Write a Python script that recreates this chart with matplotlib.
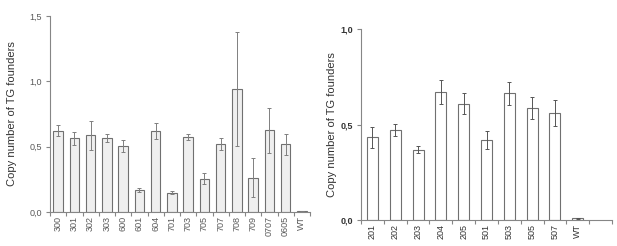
import matplotlib
matplotlib.use('Agg')
import matplotlib.pyplot as plt
import numpy as np

plt.rcParams['font.family'] = ['Liberation Sans', 'DejaVu Sans']

# Left panel data
left_labels = ['300', '301', '302', '303', '600', '601', '604', '701', '703', '705',
               '707', '708', '709', '0707', '0605', 'WT']
left_values = [0.621, 0.565, 0.586, 0.565, 0.507, 0.166, 0.619, 0.148, 0.573, 0.255,
               0.52, 0.94, 0.262, 0.624, 0.517, 0.008]
left_errors = [0.043, 0.05, 0.11, 0.033, 0.046, 0.016, 0.061, 0.012, 0.023, 0.04,
               0.047, 0.434, 0.148, 0.175, 0.08, 0.002]

# Right panel data (last category slot is empty)
right_labels = ['201', '202', '203', '204', '205', '501', '503', '505', '507', 'WT']
right_values = [0.434, 0.472, 0.369, 0.67, 0.608, 0.42, 0.663, 0.586, 0.559, 0.009]
right_errors = [0.055, 0.03, 0.018, 0.063, 0.055, 0.047, 0.06, 0.056, 0.069, 0.002]

AXIS_GRAY = '#868686'
W, H = 617, 246
fig = plt.figure(figsize=(W / 100, H / 100), dpi=100)


def style_axes(ax, n_slots, labels, tick_color, weight):
    for side in ['top', 'right']:
        ax.spines[side].set_visible(False)
    for side in ['left', 'bottom']:
        ax.spines[side].set_color(AXIS_GRAY)
        ax.spines[side].set_linewidth(0.8)
    ax.set_xlim(-0.5, n_slots - 0.5)
    ax.set_xticks(range(len(labels)))
    ax.set_xticklabels(labels, rotation=90, fontsize=6.5, color=tick_color)
    ax.set_xticks(np.arange(-0.5, n_slots, 1), minor=True)
    ax.tick_params(axis='x', which='major', length=0, pad=3)
    ax.tick_params(axis='x', which='minor', length=3, color=AXIS_GRAY, width=0.8)
    ax.tick_params(axis='y', length=3, color=AXIS_GRAY, width=0.8, labelsize=6.5,
                   labelcolor=tick_color, pad=3)
    for t in ax.get_yticklabels():
        t.set_fontweight(weight)
    ax.set_ylabel('Copy number of TG founders', fontsize=8, color='#333333')


# Left chart
ax1 = fig.add_axes([50 / W, 1 - 212 / H, 260 / W, 196 / H])
x1 = np.arange(len(left_labels))
ax1.bar(x1, left_values, width=0.58, color='#efefef', edgecolor='#707070', linewidth=0.8,
        yerr=left_errors, error_kw=dict(ecolor='#7f7f7f', elinewidth=0.7, capsize=1.3, capthick=0.7))
ax1.set_ylim(0, 1.5)
ax1.set_yticks([0, 0.5, 1.0, 1.5])
ax1.set_yticklabels(['0,0', '0,5', '1,0', '1,5'])
style_axes(ax1, len(left_labels), left_labels, '#595959', 'normal')
ax1.yaxis.set_label_coords(-33 / 260, 0.5)

# Right chart
ax2 = fig.add_axes([361 / W, 1 - 220 / H, 251 / W, 191 / H])
x2 = np.arange(len(right_labels))
ax2.bar(x2, right_values, width=0.48, color='white', edgecolor='#707070', linewidth=0.8,
        yerr=right_errors, error_kw=dict(ecolor='#555555', elinewidth=0.7, capsize=1.5, capthick=0.7))
ax2.set_ylim(0, 1.0)
ax2.set_yticks([0, 0.5, 1.0])
ax2.set_yticklabels(['0,0', '0,5', '1,0'])
style_axes(ax2, len(right_labels) + 1, right_labels, '#333333', 'bold')
ax2.yaxis.set_label_coords(-24 / 251, 0.5)

fig.savefig('out.png', dpi=100)
